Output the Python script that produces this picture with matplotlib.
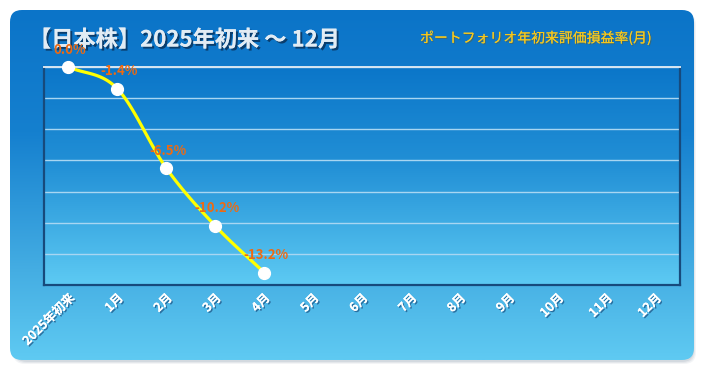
import numpy as np
import matplotlib
matplotlib.use("Agg")
import matplotlib.pyplot as plt
import matplotlib.patheffects as pe
import matplotlib.transforms as mtrans
from matplotlib.patches import FancyBboxPatch
from matplotlib.colors import LinearSegmentedColormap

plt.rcParams['font.family'] = ['Noto Sans CJK JP', 'DejaVu Sans']

# ---- data ----
categories = ['2025年初来', '1月', '2月', '3月', '4月', '5月', '6月',
              '7月', '8月', '9月', '10月', '11月', '12月']
values = [0.0, -1.4, -6.5, -10.2, -13.2]
labels = ['0.0%', '-1.4%', '-6.5%', '-10.2%', '-13.2%']
title = '【日本株】2025年初来 ～ 12月'
subtitle = 'ポートフォリオ年初来評価損益率(月)'

W, H = 709, 376
fig = plt.figure(figsize=(W / 100, H / 100), dpi=100)
fig.patch.set_facecolor('white')

# background axes in pixel coordinates
bg = fig.add_axes([0, 0, 1, 1])
bg.set_xlim(0, W)
bg.set_ylim(H, 0)
bg.axis('off')

# card shadow
for i, a in enumerate([0.10, 0.14, 0.18]):
    sh = FancyBboxPatch((13 + i, 13 + i), 683 - 2 * i, 351 - 2 * i,
                        boxstyle="round,pad=0,rounding_size=12",
                        fc='#8a9aaa', ec='none', alpha=a, zorder=1)
    bg.add_patch(sh)

card = FancyBboxPatch((10, 10), 684, 350, boxstyle="round,pad=0,rounding_size=12",
                      fc='none', ec='none', zorder=2)
bg.add_patch(card)
card_cmap = LinearSegmentedColormap.from_list(
    'card', [(0, '#0B74C8'), (0.35, '#1580CF'), (0.75, '#45AEE3'), (1, '#5FCAF2')])
grad = np.linspace(0, 1, 256).reshape(-1, 1)
im = bg.imshow(grad, cmap=card_cmap, extent=(10, 694, 360, 10), aspect='auto',
               zorder=2, interpolation='bilinear')
im.set_clip_path(card)

# ---- plot axes ----
x0, x1, y0, y1 = 44, 680, 67, 285
ax = fig.add_axes([x0 / W, 1 - y1 / H, (x1 - x0) / W, (y1 - y0) / H])
ax.set_facecolor('none')
plot_cmap = LinearSegmentedColormap.from_list(
    'plot', [(0, '#0B76C9'), (0.45, '#2290D6'), (1, '#5DCAF3')])
ax.imshow(grad, cmap=plot_cmap, extent=(0, 1, 0, 1), transform=ax.transAxes,
          aspect='auto', zorder=0, interpolation='bilinear')

n = len(categories)
ax.set_xlim(-0.5, n - 0.5)
ax.set_ylim(-14, 0)
ax.set_yticks(np.arange(-14, 1, 2))
ax.yaxis.grid(True, color='#A8D6F2', linewidth=1.0, zorder=1)
ax.set_axisbelow(True)
ax.tick_params(axis='y', left=False, labelleft=False)

# smooth curve (Catmull-Rom through the data points, for drawing)
xs = np.arange(len(values), dtype=float)
ys = np.array(values, dtype=float)
px = np.concatenate([[2 * xs[0] - xs[1]], xs, [2 * xs[-1] - xs[-2]]])
py = np.concatenate([[2 * ys[0] - ys[1]], ys, [2 * ys[-1] - ys[-2]]])
cx, cy = [], []
t = np.linspace(0, 1, 30)
for i in range(1, len(px) - 2):
    p0, p1, p2, p3 = (np.array([px[j], py[j]]) for j in range(i - 1, i + 3))
    for tt in t:
        pt = 0.5 * ((2 * p1) + (-p0 + p2) * tt + (2 * p0 - 5 * p1 + 4 * p2 - p3) * tt ** 2
                    + (-p0 + 3 * p1 - 3 * p2 + p3) * tt ** 3)
        cx.append(pt[0]); cy.append(pt[1])
ax.plot(cx, cy, color='#FFFF00', linewidth=2.3, zorder=3, solid_capstyle='round',
        clip_on=False)
ax.plot(xs, ys, linestyle='none', marker='o', markersize=8.5, markerfacecolor='white',
        markeredgecolor='white', zorder=4, clip_on=False)

for xi, yi, lab in zip(xs, ys, labels):
    ax.annotate(lab, (xi, yi), xytext=(1, 12.5), textcoords='offset points',
                ha='center', va='center', fontsize=9.5, fontweight='bold',
                color='#EE6A12', zorder=5, annotation_clip=False)

ax.set_xticks(np.arange(n))
ax.set_xticklabels(categories, rotation=45, ha='right', va='center',
                   rotation_mode='anchor', fontsize=9, fontweight='bold', color='white')
ax.tick_params(axis='x', length=0, pad=8)
offs = mtrans.ScaledTranslation(4 / 100, 0, fig.dpi_scale_trans)
for tl in ax.get_xticklabels():
    tl.set_path_effects([pe.withSimplePatchShadow(offset=(1, -1), shadow_rgbFace='#1a4f80',
                                                  alpha=0.7), pe.Normal()])
    tl.set_transform(tl.get_transform() + offs)

for s in ['left', 'right', 'bottom']:
    ax.spines[s].set_color('#174A7C')
    ax.spines[s].set_linewidth(1.6)
ax.spines['top'].set_color('#D8E6F2')
ax.spines['top'].set_linewidth(1.4)
for s in ax.spines.values():
    s.set_zorder(2)

# titles
bg.text(29, 40, title, fontsize=16, fontweight='semibold', color='#E2ECF4',
        ha='left', va='center', zorder=6,
        path_effects=[pe.withSimplePatchShadow(offset=(1.5, -1.5), shadow_rgbFace='#0a2f55',
                                               alpha=0.8), pe.Normal()])
bg.text(420, 38, subtitle, fontsize=10, color='#F8C81A', ha='left', va='center', zorder=6,
        path_effects=[pe.withSimplePatchShadow(offset=(0.8, -0.8), shadow_rgbFace='#6a5a20',
                                               alpha=0.5), pe.Normal()])

fig.savefig('out.png', dpi=100, facecolor='white')
